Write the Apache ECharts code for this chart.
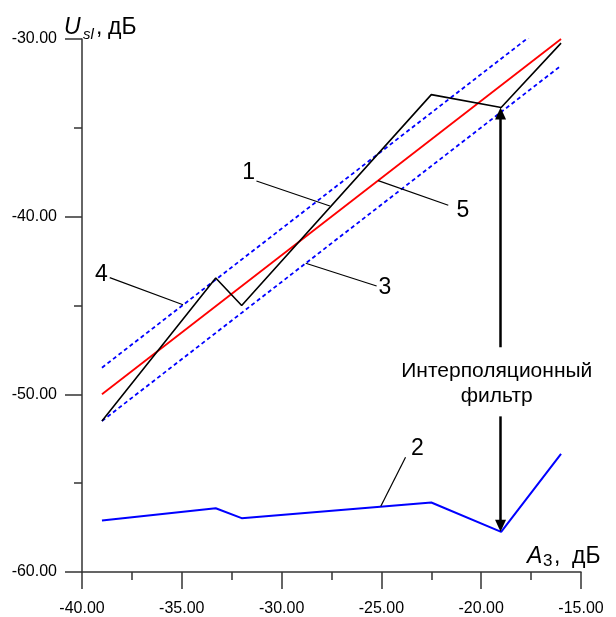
<!DOCTYPE html>
<html>
<head>
<meta charset="utf-8">
<script src="https://cdn.jsdelivr.net/npm/echarts@6/dist/echarts.min.js"></script>
<style>
  html, body { margin: 0; padding: 0; background: #fff; }
  #chart { width: 616px; height: 617px; }
</style>
</head>
<body>
<div id="chart"></div>
<script>
// Attenuation A3 (dB) at the measured points
const xPoints = [-39, -33.3, -32, -22.5, -19, -16];
// Curve 1: Usl measured
const curve1 = [-51.5, -43.45, -45.0, -33.13, -33.86, -30.23];
// Curve 2: second measured characteristic
const curve2 = [-57.1, -56.41, -56.97, -56.09, -57.74, -53.35];
// Linear fit (5) and its bounds (4 upper, 3 lower) over the same range
const fitX = [-39, -16];
const curve5 = [-50, -30];
const curve4 = [-48.5, -28.5];
const curve3 = [-51.5, -31.5];

// Axis ranges and tick steps
const xRange = [-40, -15], xStep = 5;
const yRange = [-60, -30], yStep = 10;

// Callout labels: [text, labelX, labelY, lineFromX, lineFromY, lineToX, lineToY]
const callouts = [
  ['1', -31.65, -37.5, -31.26, -37.99, -27.58, -39.4],
  ['5', -20.92, -39.66, -25.16, -37.97, -21.65, -39.36],
  ['3', -24.83, -44.0, -28.79, -42.62, -25.24, -43.9],
  ['4', -39.03, -43.24, -38.61, -43.43, -34.94, -44.96],
  ['2', -23.2, -53.05, -25.03, -56.3, -23.79, -53.54]
];
// Filter annotation arrows: [x, fromY, toY]; toY is where the arrowhead centre sits
const arrows = [
  [-19.03, -47.35, -34.2],
  [-19.03, -51.24, -57.4]
];
const filterText = ['Интерполяционный', 'фильтр'];
const filterTextPos = [[-19.22, -48.7], [-19.22, -50.11]];

const pairs = (xs, ys) => xs.map((x, i) => [x, ys[i]]);
const FONT = 'Liberation Sans, Arial, sans-serif';

const chart = echarts.init(document.getElementById('chart'), null, { renderer: 'canvas' });

const axisColor = '#333';
// Separate style objects for each tick set
const tickLine = () => ({ color: axisColor, width: 1.5 });
const option = {
  animation: false,
  backgroundColor: '#fff',
  grid: { left: 82, right: 35, top: 39, bottom: 45, containLabel: false },
  xAxis: {
    type: 'value', min: xRange[0], max: xRange[1], interval: xStep,
    axisLine: { show: true, onZero: false, lineStyle: { color: axisColor, width: 1.5 } },
    axisTick: { show: true, length: 17, lineStyle: tickLine() },
    minorTick: { show: true, splitNumber: 2, length: 8, lineStyle: tickLine() },
    splitLine: { show: false },
    axisLabel: { formatter: v => v.toFixed(2), color: '#000', fontSize: 16, fontFamily: FONT, margin: 29 }
  },
  yAxis: {
    type: 'value', min: yRange[0], max: yRange[1], interval: yStep,
    axisLine: { show: true, onZero: false, lineStyle: { color: axisColor, width: 1.5 } },
    axisTick: { show: true, length: 17, lineStyle: tickLine() },
    minorTick: { show: true, splitNumber: 2, length: 8, lineStyle: tickLine() },
    splitLine: { show: false },
    axisLabel: { formatter: v => v.toFixed(2), color: '#000', fontSize: 16, fontFamily: FONT, margin: 25 }
  },
  series: [
    { name: '4', type: 'line', data: pairs(fitX, curve4), symbol: 'none', silent: true,
      lineStyle: { color: '#0000ff', width: 1.8, type: [4, 3] } },
    { name: '3', type: 'line', data: pairs(fitX, curve3), symbol: 'none', silent: true,
      lineStyle: { color: '#0000ff', width: 1.8, type: [4, 3] } },
    { name: '5', type: 'line', data: pairs(fitX, curve5), symbol: 'none', silent: true,
      lineStyle: { color: '#ff0000', width: 1.8 } },
    { name: '1', type: 'line', data: pairs(xPoints, curve1), symbol: 'none', silent: true,
      lineStyle: { color: '#000', width: 1.6 } },
    { name: '2', type: 'line', data: pairs(xPoints, curve2), symbol: 'none', silent: true,
      lineStyle: { color: '#0000ff', width: 2 } },
    {
      name: 'annotations', type: 'line', data: [], silent: true,
      markLine: {
        silent: true, animation: false,
        label: { show: false },
        data: [
          ...callouts.map(c => [
            { coord: [c[3], c[4]], symbol: 'none', lineStyle: { color: '#000', width: 1.2, type: 'solid' } },
            { coord: [c[5], c[6]], symbol: 'none' }
          ]),
          ...arrows.map(a => [
            { coord: [a[0], a[1]], symbol: 'none', lineStyle: { color: '#000', width: 2.5, type: 'solid' } },
            { coord: [a[0], a[2]], symbol: 'triangle', symbolSize: [11, 12] }
          ])
        ]
      },
      markPoint: {
        silent: true, animation: false,
        symbol: 'circle', symbolSize: 0,
        data: [
          ...callouts.map(c => ({
            coord: [c[1], c[2]], value: c[0],
            label: { show: true, position: 'inside', formatter: c[0], fontSize: 23, color: '#000', fontFamily: FONT }
          })),
          ...filterText.map((t, i) => ({
            coord: filterTextPos[i], value: t,
            label: { show: true, position: 'inside', formatter: t, fontSize: 21, color: '#000', fontFamily: FONT }
          }))
        ]
      }
    }
  ],
  graphic: [
    // Y axis title: U_sl, дБ
    { type: 'text', left: 64, top: 16, style: { text: 'U', font: 'italic 23px ' + FONT, fill: '#000' } },
    { type: 'text', left: 83, top: 27, style: { text: 'sl', font: 'italic 15px ' + FONT, fill: '#000' } },
    { type: 'text', left: 96, top: 16, style: { text: ',', font: '23px ' + FONT, fill: '#000' } },
    { type: 'text', left: 108, top: 16, style: { text: 'дБ', font: '23px ' + FONT, fill: '#000' } },
    // X axis title: A3, дБ
    { type: 'text', left: 527, top: 545, style: { text: 'A', font: 'italic 23px ' + FONT, fill: '#000' } },
    { type: 'text', left: 543, top: 553, style: { text: '3', font: '17px ' + FONT, fill: '#000' } },
    { type: 'text', left: 554, top: 545, style: { text: ',', font: '23px ' + FONT, fill: '#000' } },
    { type: 'text', left: 572, top: 545, style: { text: 'дБ', font: '23px ' + FONT, fill: '#000' } }
  ]
};

chart.setOption(option);
</script>
</body>
</html>
